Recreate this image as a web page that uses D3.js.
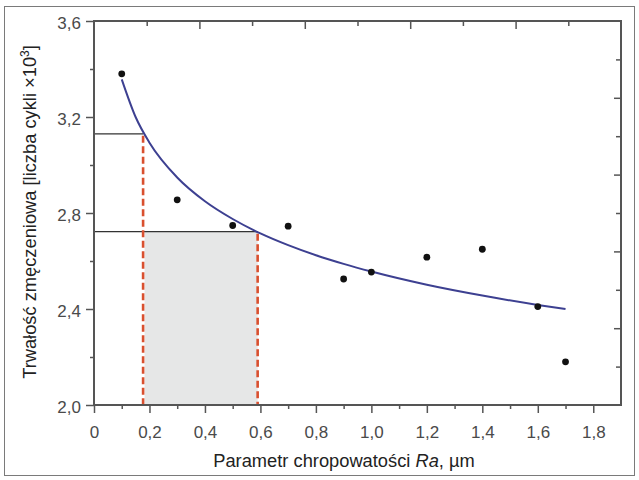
<!DOCTYPE html>
<html>
<head>
<meta charset="utf-8">
<script src="https://cdn.jsdelivr.net/npm/d3@7"></script>
<style>
  html, body { margin: 0; padding: 0; background: #fff; }
  svg { display: block; font-family: "Liberation Sans", Arial, sans-serif; }
</style>
</head>
<body>
<svg id="chart" width="639" height="480"></svg>
<script>
/** measured points: roughness Ra [µm] vs fatigue life [x10^3 cycles] */
const pointRa = [0.1, 0.3, 0.5, 0.7, 0.9, 1.0, 1.2, 1.4, 1.6, 1.7];
const pointLife = [3.38, 2.855, 2.748, 2.745, 2.525, 2.554, 2.616, 2.649, 2.41, 2.18];

/** fitted trend curve */
const curveRa = [0.1, 0.15, 0.2, 0.3, 0.4, 0.5, 0.6, 0.7, 0.8, 0.9, 1.0, 1.2, 1.4, 1.6, 1.7];
const curveLife = [3.357, 3.2, 3.093, 2.948, 2.849, 2.775, 2.715, 2.666, 2.624, 2.588, 2.556, 2.501, 2.456, 2.417, 2.4];

/** marked range: life limits and their roughness values */
const markRa = [0.177, 0.59];
const markLife = [3.13, 2.722];

/** ticks */
const xMajor = [0, 0.2, 0.4, 0.6, 0.8, 1.0, 1.2, 1.4, 1.6, 1.8];
const xMinor = [0.1, 0.3, 0.5, 0.7, 0.9, 1.1, 1.3, 1.5, 1.7];
const yMajor = [2.0, 2.4, 2.8, 3.2, 3.6];
const yMinor = [2.2, 2.6, 3.0, 3.4];
const frameTicks = [1, 2, 3, 4, 5, 6, 7, 8, 9];

const svg = d3.select("#chart");
const plotLeft = 94, plotRight = 621, plotTop = 21, plotBottom = 405;

/** outer frame */
svg.append("rect")
  .attr("x", 4.5).attr("y", 6.5).attr("width", 630).attr("height", 469)
  .attr("fill", "none").attr("stroke", "#7a7a7a").attr("stroke-width", 1);

/** scales */
const x = d3.scaleLinear().domain([0, 1.9]).range([plotLeft, plotRight]);
const y = d3.scaleLinear().domain([2.0, 3.6]).range([plotBottom, plotTop]);
const frameX = d3.scaleLinear().domain([0, 10]).range([plotLeft, plotRight]);
const frameY = d3.scaleLinear().domain([0, 10]).range([plotBottom, plotTop]);

/** grey shaded band */
svg.append("rect")
  .attr("x", x(markRa[0]) + 1.5)
  .attr("y", y(markLife[1]))
  .attr("width", x(markRa[1]) - x(markRa[0]) - 1.5)
  .attr("height", y(2.0) - y(markLife[1]))
  .attr("fill", "#e6e7e7");

/** horizontal guide lines */
markRa.forEach((r, i) => {
  svg.append("line")
    .attr("x1", x(0)).attr("x2", x(r))
    .attr("y1", y(markLife[i])).attr("y2", y(markLife[i]))
    .attr("stroke", "#333").attr("stroke-width", 1.3);
});

/** red dashed verticals */
markRa.forEach((r, i) => {
  svg.append("line")
    .attr("x1", x(r)).attr("x2", x(r))
    .attr("y1", y(markLife[i]) + 2).attr("y2", y(2.0))
    .attr("stroke", "#d9502f").attr("stroke-width", 2.6)
    .attr("stroke-dasharray", "7 3.5");
});

/** trend curve */
const line = d3.line()
  .curve(d3.curveMonotoneX)
  .x((d) => x(d[0]))
  .y((d) => y(d[1]));
svg.append("path")
  .attr("d", line(d3.zip(curveRa, curveLife)))
  .attr("fill", "none")
  .attr("stroke", "#3d4091")
  .attr("stroke-width", 2);

/** points */
svg.selectAll("circle.pt")
  .data(d3.zip(pointRa, pointLife))
  .join("circle")
  .attr("class", "pt")
  .attr("cx", (d) => x(d[0]))
  .attr("cy", (d) => y(d[1]))
  .attr("r", 3.4)
  .attr("fill", "#111");

/** axes */
const comma = (d) => (d === 0 ? "0" : d3.format(".1f")(d).replace(".", ","));
const styleAxis = (g) => {
  g.select(".domain").remove();
  g.selectAll("line").attr("stroke", "#555").attr("stroke-width", 1.5);
  g.selectAll("text")
    .attr("fill", "#4a4a4a")
    .style("font-size", "17px")
    .style("font-family", "'Liberation Sans', Arial, sans-serif");
};

svg.append("g")
  .attr("transform", `translate(0,${plotBottom})`)
  .call(d3.axisBottom(x).tickValues(xMajor).tickFormat(comma).tickSize(8).tickPadding(13))
  .call(styleAxis);
svg.append("g")
  .attr("transform", `translate(0,${plotBottom})`)
  .call(d3.axisBottom(x).tickValues(xMinor).tickFormat("").tickSize(4))
  .call(styleAxis);

svg.append("g")
  .attr("transform", `translate(${plotLeft},0)`)
  .call(d3.axisLeft(y).tickValues(yMajor).tickFormat(comma).tickSize(8).tickPadding(5))
  .call(styleAxis)
  .call((g) => g.selectAll("text").attr("dy", "0.45em"));
svg.append("g")
  .attr("transform", `translate(${plotLeft},0)`)
  .call(d3.axisLeft(y).tickValues(yMinor).tickFormat("").tickSize(4))
  .call(styleAxis);

/** top and right frame ticks (inward) */
svg.append("g")
  .attr("transform", `translate(0,${plotTop})`)
  .call(d3.axisBottom(frameX).tickValues(frameTicks).tickFormat("").tickSize(0))
  .call((g) => g.select(".domain").remove())
  .call((g) => g.selectAll(".tick line")
    .attr("y2", (d) => (d % 2 === 0 ? 8 : 5))
    .attr("stroke", "#555").attr("stroke-width", 1.5));
svg.append("g")
  .attr("transform", `translate(${plotRight},0)`)
  .call(d3.axisLeft(frameY).tickValues(frameTicks).tickFormat("").tickSize(0))
  .call((g) => g.select(".domain").remove())
  .call((g) => g.selectAll(".tick line")
    .attr("x2", (d) => (d % 2 === 0 ? -7 : -5))
    .attr("stroke", "#555").attr("stroke-width", 1.5));

/** plot box */
svg.append("rect")
  .attr("x", plotLeft).attr("y", plotTop)
  .attr("width", plotRight - plotLeft).attr("height", plotBottom - plotTop)
  .attr("fill", "none").attr("stroke", "#555").attr("stroke-width", 2);

/** axis titles */
const xt = svg.append("text")
  .attr("x", 344).attr("y", 467)
  .attr("text-anchor", "middle")
  .attr("fill", "#222")
  .style("font-size", "18.3px");
xt.append("tspan").text("Parametr chropowatości ");
xt.append("tspan").style("font-style", "italic").text("Ra");
xt.append("tspan").text(", µm");

const yt = svg.append("text")
  .attr("transform", "translate(36,212) rotate(-90)")
  .attr("text-anchor", "middle")
  .attr("fill", "#222")
  .style("font-size", "18.3px");
yt.append("tspan").text("Trwałość zmęczeniowa [liczba cykli ×10");
yt.append("tspan").attr("dy", -7).style("font-size", "12px").text("3");
yt.append("tspan").attr("dy", 7).text("]");
</script>
</body>
</html>
